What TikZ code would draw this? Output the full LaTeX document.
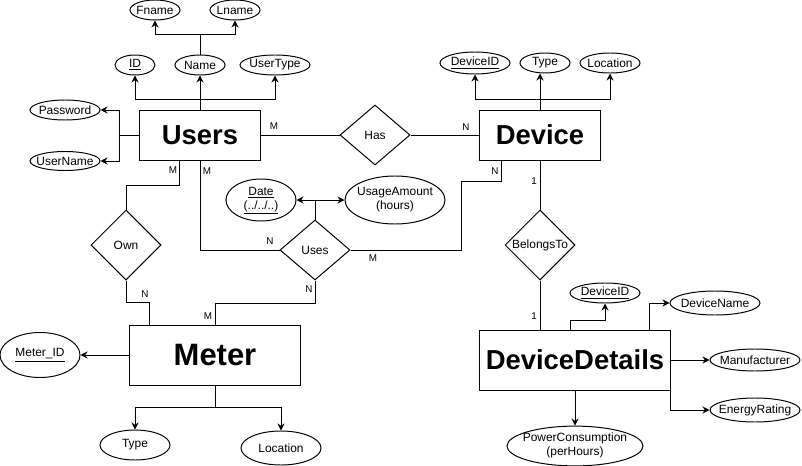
\documentclass[tikz,border=0pt]{standalone}
\usepackage{fontspec}
\setmainfont{Liberation Sans}
\usepackage{tikz}
\usetikzlibrary{shapes.geometric,arrows.meta}

% text that does not widen its shape
\newcommand{\ctext}[1]{\makebox[0pt]{#1}}
\newcommand{\twolines}[2]{\ctext{\begin{tabular}{@{}c@{}}#1\\#2\end{tabular}}}

\tikzset{
  entity/.style={draw, rectangle, line width=0.7pt, inner sep=0pt,
    font=\fontsize{19.5}{22}\selectfont\bfseries},
  relation/.style={draw, diamond, line width=0.7pt, inner sep=0pt,
    minimum width=1.75cm, font=\fontsize{8.5}{10}\selectfont},
  attr/.style={draw, ellipse, line width=0.7pt, inner sep=0pt,
    font=\fontsize{8.5}{10}\selectfont},
  card/.style={inner sep=0pt, font=\fontsize{7}{8}\selectfont},
  link/.style={line width=0.7pt},
  arr/.style={line width=0.7pt, -{Stealth[length=5pt,width=5pt]}}
}

\begin{document}
\begin{tikzpicture}[x=0.025cm, y=-0.025cm]
        \useasboundingbox (0,0) rectangle (802,466);

        % Entities
        \node[entity, minimum width=3cm, minimum height=1.25cm] (users) at (200,135) {Users};
        \node[entity, minimum width=3cm, minimum height=1.25cm] (device) at (540,135) {Device};
        \node[entity, minimum width=4.25cm, minimum height=1.5cm,
              font=\fontsize{22}{24}\selectfont\bfseries] (meter) at (215,355) {Meter};
        \node[entity, minimum width=4.75cm, minimum height=1.5cm] (details) at (575,360) {DeviceDetails};

        % Relationships
        \node[relation, minimum height=1.5cm] (has) at (375,135) {\ctext{Has}};
        \node[relation, minimum height=1.75cm] (own) at (126,245) {\ctext{Own}};
        \node[relation, minimum height=1.5cm] (uses) at (315,250) {\ctext{Uses}};
        \node[relation, minimum height=1.75cm] (belongs) at (540,245) {\ctext{BelongsTo}};

        % Users attributes
        \node[attr, minimum width=1.25cm, minimum height=0.5cm] (fname) at (155,10) {\ctext{Fname}};
        \node[attr, minimum width=1.25cm, minimum height=0.5cm] (lname) at (235,10) {\ctext{Lname}};
        \node[attr, minimum width=1cm, minimum height=0.5cm] (uid) at (135,65) {\ctext{\underline{ID}}};
        \node[attr, minimum width=1.25cm, minimum height=0.5cm] (name) at (200,65) {\ctext{Name}};
        \node[attr, minimum width=1.75cm, minimum height=0.5cm] (usertype) at (275,65) {\ctext{UserType}};
        \node[attr, minimum width=1.75cm, minimum height=0.5cm] (password) at (65,110) {\ctext{Password}};
        \node[attr, minimum width=1.75cm, minimum height=0.475cm] (username) at (65,161) {\ctext{UserName}};

        % Device attributes
        \node[attr, minimum width=1.75cm, minimum height=0.55cm] (devid) at (475,63) {\ctext{\underline{DeviceID}}};
        \node[attr, minimum width=1.25cm, minimum height=0.5cm] (devtype) at (545,63) {\ctext{Type}};
        \node[attr, minimum width=1.5cm, minimum height=0.5cm] (devloc) at (610,63) {\ctext{Location}};

        % Uses attributes
        \node[attr, minimum width=1.75cm, minimum height=1.05cm] (date) at (261,200)
             {\twolines{\underline{Date}}{\underline{(../../..)}}};
        \node[attr, minimum width=2.5cm, minimum height=1.2cm] (usage) at (395,200)
             {\twolines{UsageAmount}{(hours)}};

        % Meter attributes
        \node[attr, minimum width=2cm, minimum height=1.125cm] (meterid) at (40,355) {\ctext{\underline{Meter\_ID}}};
        \node[attr, minimum width=1.75cm, minimum height=0.75cm] (mtype) at (135,445) {\ctext{Type}};
        \node[attr, minimum width=2cm, minimum height=0.85cm] (mloc) at (281,448) {\ctext{Location}};

        % DeviceDetails attributes
        \node[attr, minimum width=1.75cm, minimum height=0.5cm] (ddid) at (605,293) {\ctext{\underline{DeviceID}}};
        \node[attr, minimum width=2.25cm, minimum height=0.6cm] (ddname) at (715,303) {\ctext{DeviceName}};
        \node[attr, minimum width=2.25cm, minimum height=0.55cm] (manuf) at (755,360) {\ctext{Manufacturer}};
        \node[attr, minimum width=2.25cm, minimum height=0.6cm] (energy) at (755,410) {\ctext{EnergyRating}};
        \node[attr, minimum width=3.4cm, minimum height=0.95cm] (power) at (575,446)
             {\twolines{PowerConsumption}{(perHours)}};

        % Users attribute links
        \draw[arr] (users.north) -- (name.south);
        \draw[arr] (users.north) ++(0,-10) -| (uid.south);
        \draw[arr] (users.north) ++(0,-10) -| (usertype.south);
        \draw[arr] (name.north) -- ++(0,-20) -| (fname.south);
        \draw[arr] (name.north) ++(0,-20) -| (lname.south);
        \draw[arr] (users.west) -- ++(-20,0) |- (password.east);
        \draw[arr] (users.west) ++(-20,0) |- (username.east);

        % Device attribute links
        \draw[arr] (device.north) -- (device.north |- devtype.south);
        \draw[arr] (device.north) ++(0,-10) -| (devid.south);
        \draw[arr] (device.north) ++(0,-10) -| (devloc.south);

        % Relationship links
        \draw[link] (users.east) -- (has.west);
        \draw[link] (has.east) -- (device.west);
        \draw[link] ([xshift=1cm]users.south west) -- ++(0,25) -| (own.north);
        \draw[link] ([xshift=0.5cm]meter.north west) -- ++(0,-22) -| (own.south);
        \draw[link] (users.south) |- (uses.west);
        \draw[link] (uses.east) -| ++(111,-69) -| ([xshift=0.55cm]device.south west);
        \draw[link] (uses.south) -- ++(0,23) -| (meter.north);
        \draw[arr] (uses.north) |- (date.east);
        \draw[arr] (uses.north) |- (usage.west);
        \draw[link] (device.south) -- (belongs.north);
        \draw[link] (belongs.south) -- (belongs.south |- details.north);

        % Meter attribute links
        \draw[arr] (meter.west) -- (meterid.east);
        \draw[arr] (meter.south) -- ++(0,22) -| (mtype.north);
        \draw[arr] (meter.south) ++(0,22) -| (mloc.north);

        % DeviceDetails attribute links
        \draw[arr] ([xshift=2.275cm]details.north west) -- ++(0,-9) -| (ddid.south);
        \draw[arr] ([xshift=4.25cm]details.north west) |- (ddname.west);
        \draw[arr] (details.east) -- (manuf.west);
        \draw[arr] (details.south east) |- (energy.west);
        \draw[arr] (details.south) -- (power.north);

        % Cardinalities
        \node[card] (c1) at (274,126) {M};
        \node[card] (c2) at (466,127) {N};
        \node[card] (c3) at (173,170) {M};
        \node[card] (c4) at (207,171) {M};
        \node[card] (c5) at (495,171) {N};
        \node[card] (c6) at (534,181) {1};
        \node[card] (c7) at (270,241) {N};
        \node[card] (c8) at (373,258) {M};
        \node[card] (c9) at (145,294) {N};
        \node[card] (c10) at (309,289) {N};
        \node[card] (c11) at (208,316) {M};
        \node[card] (c12) at (534,316) {1};

    \end{tikzpicture}
\end{document}
